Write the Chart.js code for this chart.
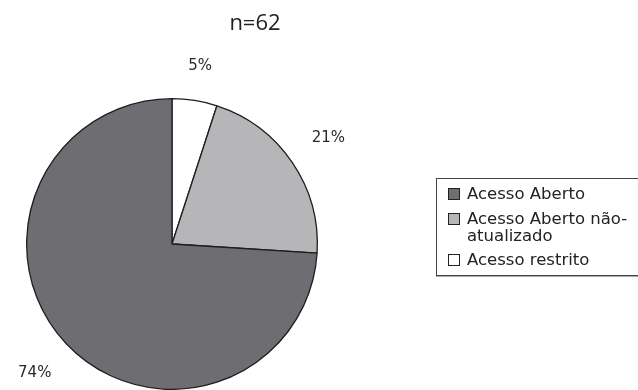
<!DOCTYPE html>
<html>
<head>
<meta charset="utf-8">
<script src="https://cdn.jsdelivr.net/npm/chart.js@4/dist/chart.umd.min.js"></script>
<style>
  html, body { margin: 0; padding: 0; background: #fff; }
  #wrap { position: relative; width: 638px; height: 390px; overflow: hidden; }
  #chart { position: absolute; left: 0; top: 0; }
  #title { position: absolute; left: 0; width: 510px; top: 6px; text-align: center;
           font: 22px "Open Sans", sans-serif; color: #222; }
  #legend { position: absolute; left: 436px; top: 178px; width: 230px; height: 98px;
            box-sizing: border-box;
            border: 1px solid #444; box-shadow: 0 1px 0 #aaa; background: #fff;
            font: 16.5px "DejaVu Sans", sans-serif; color: #222; padding: 6px 0 0 0; }
  .item { display: flex; align-items: flex-start; padding-left: 11px; line-height: 17px; margin-bottom: 7.5px; }
  .sw { box-sizing: border-box; width: 12px; height: 12px; border: 1px solid #222; margin: 3px 7px 0 0; flex: none; }
</style>
</head>
<body>
<div id="wrap">
  <canvas id="chart" width="638" height="390"></canvas>
  <div id="title"></div>
  <div id="legend"></div>
</div>
<script>
// Share of repositories by access type (n=62)
const titleText = 'n=62';
const categories = ['Acesso Aberto', 'Acesso Aberto não-atualizado', 'Acesso restrito'];
const legendText = ['Acesso Aberto', 'Acesso Aberto não-<br>atualizado', 'Acesso restrito'];
const percentages = [74, 21, 5];
const sliceColors = ['#6e6e72', '#b6b6b8', '#ffffff'];

document.getElementById('title').textContent = titleText;

// Legend box listing the categories in their original order
const legend = document.getElementById('legend');
categories.forEach((c, i) => {
  const row = document.createElement('div');
  row.className = 'item';
  const sw = document.createElement('span');
  sw.className = 'sw';
  sw.style.background = sliceColors[i];
  const tx = document.createElement('span');
  tx.innerHTML = legendText[i];
  row.appendChild(sw);
  row.appendChild(tx);
  legend.appendChild(row);
});

// Slices are drawn clockwise from 12 o'clock starting with the smallest share
const order = [2, 1, 0];
const drawLabels = order.map(i => categories[i]);
const drawValues = order.map(i => percentages[i]);
const drawColors = order.map(i => sliceColors[i]);

// Percentage labels placed just outside each slice, pushed out by their own size
const outsideLabels = {
  id: 'outsideLabels',
  afterDatasetsDraw(chart) {
    const ctx = chart.ctx;
    const meta = chart.getDatasetMeta(0);
    ctx.save();
    ctx.font = '15px "DejaVu Sans", sans-serif';
    ctx.fillStyle = '#2a2a2a';
    ctx.textAlign = 'center';
    ctx.textBaseline = 'middle';
    const gap = 26;
    const h = 14;
    meta.data.forEach((arc, i) => {
      const p = arc.getProps(['x', 'y', 'startAngle', 'endAngle', 'outerRadius'], true);
      const text = drawValues[i] + '%';
      const w = ctx.measureText(text).width;
      const mid = (p.startAngle + p.endAngle) / 2;
      const c = Math.cos(mid), s = Math.sin(mid);
      const r = p.outerRadius + gap + Math.abs(s) * h / 2 + Math.abs(c) * w / 2;
      ctx.fillText(text, p.x + c * r, p.y + s * r);
    });
    ctx.restore();
  }
};

new Chart(document.getElementById('chart'), {
  type: 'pie',
  data: {
    labels: drawLabels,
    datasets: [{
      data: drawValues,
      backgroundColor: drawColors,
      borderColor: '#1e1e1e',
      borderWidth: 1.3,
      hoverOffset: 0
    }]
  },
  options: {
    responsive: false,
    animation: false,
    events: [],
    layout: { padding: { left: 26, top: 98, right: 320, bottom: 0 } },
    plugins: {
      legend: { display: false },
      title: { display: false },
      tooltip: { enabled: false }
    }
  },
  plugins: [outsideLabels]
});
</script>
</body>
</html>
